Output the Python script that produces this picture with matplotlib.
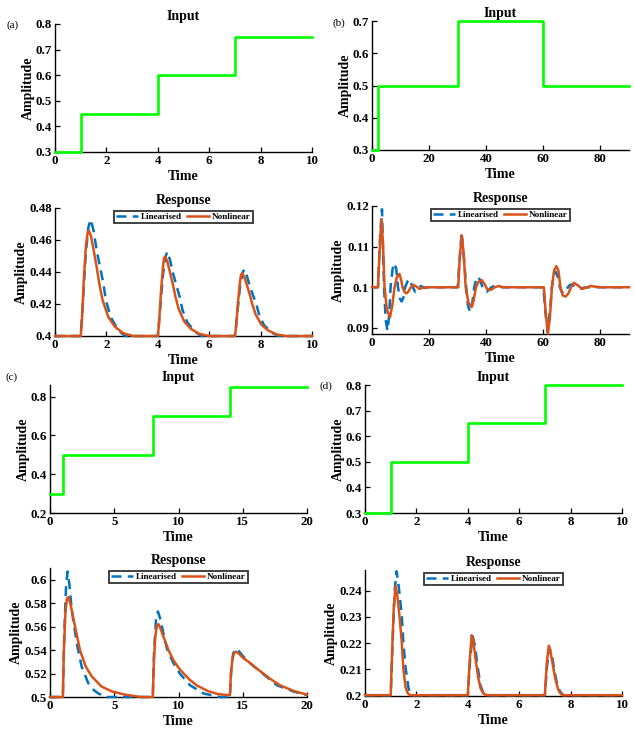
import numpy as np
import matplotlib
matplotlib.use("Agg")
import matplotlib.pyplot as plt
from matplotlib.ticker import FuncFormatter

plt.rcParams["font.family"] = ["Liberation Serif", "DejaVu Serif"]
plt.rcParams["font.weight"] = "bold"

GREEN = "#00ff00"
BLUE = "#0072bd"
ORANGE = "#d95319"

# ---- step inputs: switching times and held levels ----
a_in_t = [0, 1, 4, 7, 10]
a_in_y = [0.3, 0.45, 0.6, 0.75]
b_in_t = [0, 2, 30, 60, 90]
b_in_y = [0.3, 0.5, 0.7, 0.5]
c_in_t = [0, 1, 8, 14, 20]
c_in_y = [0.3, 0.5, 0.7, 0.85]
d_in_t = [0, 1, 4, 7, 10]
d_in_y = [0.3, 0.5, 0.65, 0.8]

# ---- (a) responses ----
a_lin_t = [0, 1.0, 1.08, 1.2, 1.3, 1.39, 1.5, 1.62, 1.75, 1.88, 1.98, 2.16, 2.46, 2.72,
           4.0, 4.08, 4.2, 4.3, 4.37, 4.47, 4.6, 4.73, 4.86, 4.96, 5.14, 5.44, 5.7,
           7.0, 7.08, 7.2, 7.3, 7.36, 7.46, 7.59, 7.72, 7.85, 7.95, 8.13, 8.43, 8.7, 10]
a_lin_y = [0.4, 0.4, 0.42, 0.452, 0.468, 0.4729, 0.466, 0.4537, 0.4433, 0.433, 0.4225, 0.412, 0.4037, 0.4,
           0.4, 0.415, 0.438, 0.4495, 0.4527, 0.4478, 0.4388, 0.4313, 0.4239, 0.4163, 0.4087, 0.4027, 0.4,
           0.4, 0.412, 0.431, 0.4395, 0.4417, 0.4378, 0.4307, 0.4248, 0.4189, 0.4129, 0.4069, 0.4021, 0.4, 0.4]
a_nl_t = [0, 1.0, 1.05, 1.12, 1.2, 1.27, 1.32, 1.4, 1.5, 1.62, 1.72, 1.85, 2.07, 2.33, 2.66, 3.05,
          4.0, 4.05, 4.12, 4.2, 4.24, 4.28, 4.36, 4.46, 4.58, 4.68, 4.81, 5.03, 5.29, 5.62, 6.0,
          7.0, 7.05, 7.12, 7.2, 7.24, 7.28, 7.36, 7.46, 7.58, 7.68, 7.81, 8.03, 8.29, 8.62, 9.0, 10]
a_nl_y = [0.4, 0.4, 0.41, 0.435, 0.456, 0.4645, 0.4658, 0.4625, 0.454, 0.4433, 0.433, 0.4225, 0.412, 0.4058, 0.4017, 0.4,
          0.4, 0.408, 0.427, 0.443, 0.4485, 0.4496, 0.4471, 0.4408, 0.4327, 0.425, 0.417, 0.409, 0.4044, 0.4013, 0.4,
          0.4, 0.406, 0.421, 0.434, 0.4383, 0.4392, 0.4372, 0.4322, 0.4258, 0.4197, 0.4134, 0.4071, 0.4035, 0.401, 0.4, 0.4]

# ---- (b) responses ----
b_lin_t = [0, 2.1, 2.8, 3.5, 4.2, 4.8, 5.4, 6.0, 6.5, 7.2, 7.9, 8.5, 9.1, 9.8, 10.4, 11.0, 11.6,
           12.4, 13.1, 14.1, 15.1, 16.0, 17.0, 18.5, 20, 30.0, 30.6, 31.4, 32.2, 33.0, 33.6, 34.3,
           35.0, 35.8, 36.5, 37.2, 38.0, 38.7, 39.5, 40.2, 41.8, 43.5, 45.5, 60.0, 60.7, 61.5,
           62.3, 63.0, 63.6, 64.3, 65.1, 65.8, 66.5, 67.2, 68.0, 68.6, 69.3, 70.0, 71.5, 73.0,
           75.0, 90]
b_lin_y = [0.1, 0.1, 0.112, 0.1192, 0.1, 0.092, 0.0893, 0.093, 0.1, 0.1045, 0.1059, 0.1045, 0.1,
           0.0972, 0.0965, 0.0975, 0.1, 0.1014, 0.102, 0.1003, 0.0989, 0.0994, 0.1003, 0.0999, 0.1,
           0.1, 0.106, 0.1135, 0.107, 0.1, 0.0955, 0.094, 0.0955, 0.1, 0.102, 0.1026, 0.1015,
           0.1, 0.0991, 0.0989, 0.1, 0.1005, 0.1, 0.1, 0.094, 0.089, 0.094, 0.1, 0.1033, 0.1038,
           0.1025, 0.1, 0.0988, 0.0985, 0.0992, 0.1, 0.1006, 0.1007, 0.1, 0.0997, 0.1, 0.1]
b_nl_t = [0, 2.1, 2.6, 3.27, 3.8, 4.4, 5.2, 6.3, 7.1, 7.9, 8.7, 9.6, 10.2, 10.7, 11.4, 12.1, 12.8,
          13.6, 14.5, 15.5, 16.6, 18.0, 20, 30.0, 30.2, 30.7, 31.4, 32.1, 32.8, 33.8, 34.9, 35.6,
          36.4, 37.3, 38.4, 39.4, 40.3, 41.5, 43.0, 44.3, 46, 60.0, 60.2, 60.8, 61.6, 62.3, 63.0,
          63.8, 64.6, 65.3, 66.0, 66.8, 67.8, 68.8, 69.7, 70.7, 72.0, 73.6, 75.0, 76.5, 80, 90]
b_nl_y = [0.1, 0.1, 0.108, 0.1167, 0.1115, 0.1, 0.0945, 0.0926, 0.0955, 0.1, 0.1025, 0.1033, 0.1018,
          0.1, 0.0988, 0.0985, 0.099, 0.1, 0.1006, 0.1002, 0.0996, 0.0999, 0.1, 0.1, 0.1, 0.107,
          0.1128, 0.1085, 0.1, 0.0962, 0.0951, 0.0968, 0.1, 0.1013, 0.1018, 0.1008, 0.0996, 0.0993,
          0.1, 0.1003, 0.1, 0.1, 0.1, 0.094, 0.0886, 0.0925, 0.1, 0.1042, 0.1052, 0.104, 0.1,
          0.098, 0.0977, 0.0985, 0.1, 0.1011, 0.1005, 0.0996, 0.0999, 0.1003, 0.1, 0.1]

# ---- (c) responses ----
c_lin_t = [0, 1.0, 1.1, 1.25, 1.37, 1.5, 1.69, 2.08, 2.46, 2.98, 3.4, 3.76, 4.4,
           8.0, 8.1, 8.25, 8.4, 8.6, 8.85, 9.1, 9.6, 10.1, 10.9, 11.95, 13.2, 14.0,
           14.1, 14.25, 14.47, 14.7, 15.0, 15.45, 16.0, 16.6, 17.66, 19.0, 20]
c_lin_y = [0.5, 0.5, 0.55, 0.595, 0.607, 0.597, 0.5744, 0.546, 0.526, 0.5117, 0.506, 0.503, 0.5,
           0.5, 0.54, 0.566, 0.5729, 0.566, 0.553, 0.541, 0.529, 0.52, 0.51, 0.503, 0.5, 0.5,
           0.522, 0.537, 0.5414, 0.539, 0.535, 0.53, 0.525, 0.5195, 0.51, 0.5045, 0.5015]
c_nl_t = [0, 1.0, 1.08, 1.2, 1.32, 1.43, 1.6, 1.95, 2.33, 2.78, 3.24, 4.0, 4.8, 5.84, 7.1,
          8.0, 8.08, 8.2, 8.32, 8.44, 8.6, 8.8, 9.0, 9.22, 9.6, 10.0, 10.4, 10.9, 11.4, 12.3,
          13.0, 13.5, 14.0, 14.08, 14.2, 14.35, 14.47, 14.7, 15.0, 15.45, 16.0, 16.6, 17.2,
          17.9, 19.0, 20]
c_nl_y = [0.5, 0.5, 0.54, 0.572, 0.584, 0.5852, 0.579, 0.56, 0.54, 0.526, 0.5177, 0.509, 0.5048,
          0.502, 0.5, 0.5, 0.53, 0.552, 0.561, 0.5621, 0.5585, 0.552, 0.5465, 0.54, 0.5315, 0.525,
          0.52, 0.5145, 0.51, 0.505, 0.5027, 0.502, 0.5015, 0.52, 0.533, 0.538, 0.5386, 0.537,
          0.5335, 0.53, 0.525, 0.52, 0.515, 0.51, 0.505, 0.502]

# ---- (d) responses ----
d_lin_t = [0, 1.0, 1.08, 1.16, 1.23, 1.32, 1.43, 1.49, 1.58, 1.69, 1.76, 1.82,
           4.0, 4.1, 4.19, 4.28, 4.38, 4.5, 4.62, 4.72,
           7.0, 7.08, 7.18, 7.27, 7.35, 7.45, 7.58, 7.72, 10]
d_lin_y = [0.2, 0.2, 0.222, 0.241, 0.2475, 0.241, 0.2306, 0.2205, 0.2104, 0.2029, 0.2005, 0.2,
           0.2, 0.215, 0.2226, 0.219, 0.211, 0.2035, 0.2005, 0.2,
           0.2, 0.211, 0.2182, 0.2155, 0.2105, 0.2055, 0.2015, 0.2, 0.2]
d_nl_t = [0, 1.0, 1.05, 1.12, 1.19, 1.26, 1.34, 1.43, 1.49, 1.58, 1.66, 1.75,
          4.0, 4.08, 4.15, 4.22, 4.3, 4.4, 4.5, 4.62, 4.75,
          7.0, 7.07, 7.15, 7.22, 7.3, 7.4, 7.52, 7.62, 7.72, 10]
d_nl_y = [0.2, 0.2, 0.215, 0.234, 0.2419, 0.238, 0.2306, 0.2205, 0.2104, 0.2029, 0.2008, 0.2,
          0.2, 0.214, 0.223, 0.2205, 0.214, 0.207, 0.2025, 0.2005, 0.2,
          0.2, 0.212, 0.219, 0.2165, 0.212, 0.2065, 0.202, 0.2005, 0.2, 0.2]


def style_axes(ax, xlim, xticks, ylim, yticks, title):
    """MATLAB-like axes: left/bottom box, inward ticks, bold serif text."""
    ax.set_xlim(xlim)
    ax.set_ylim(ylim)
    ax.set_xticks(xticks)
    ax.set_yticks(yticks)
    ax.xaxis.set_major_formatter(FuncFormatter(lambda v, p: "%g" % round(v, 4)))
    ax.yaxis.set_major_formatter(FuncFormatter(lambda v, p: "%g" % round(v, 4)))
    for side in ("top", "right"):
        ax.spines[side].set_visible(False)
    for side in ("left", "bottom"):
        ax.spines[side].set_linewidth(1.0)
    ax.tick_params(direction="in", length=3.5, width=0.9, labelsize=9.3, pad=2)
    for lab in ax.get_xticklabels() + ax.get_yticklabels():
        lab.set_fontweight("bold")
    ax.set_title(title, fontsize=10, fontweight="bold", pad=3)
    ax.set_xlabel("Time", fontsize=10, fontweight="bold", labelpad=2.5)
    ax.set_ylabel("Amplitude", fontsize=10, fontweight="bold", labelpad=1)


def draw_input(ax, edges, levels, xlim, xticks, ylim, yticks):
    ax.step(edges, np.append(levels, levels[-1]), where="post",
            color=GREEN, lw=1.9, clip_on=False, zorder=3)
    style_axes(ax, xlim, xticks, ylim, yticks, "Input")


def draw_response(ax, lin_t, lin_y, nl_t, nl_y, xlim, xticks, ylim, yticks):
    ax.plot(lin_t, lin_y, color=BLUE, lw=1.8, ls=(0, (4, 2.5)),
            label="Linearised", clip_on=False, zorder=3)
    ax.plot(nl_t, nl_y, color=ORANGE, lw=1.8, label="Nonlinear",
            clip_on=False, zorder=3)
    style_axes(ax, xlim, xticks, ylim, yticks, "Response")
    leg = ax.legend(loc="upper center", bbox_to_anchor=(0.5, 1.0), ncol=2,
                    prop={"size": 6.6, "weight": "bold"}, frameon=True,
                    fancybox=False, borderpad=0.2, handlelength=2.4,
                    handletextpad=0.3, columnspacing=0.6, borderaxespad=0.35)
    leg.get_frame().set_edgecolor("black")
    leg.get_frame().set_linewidth(1.3)


W, H = 634, 734
fig = plt.figure(figsize=(W / 100, H / 100), dpi=100)


def add_axes(x0, x1, ytop, ybot):
    return fig.add_axes([x0 / W, 1 - ybot / H, (x1 - x0) / W, (ybot - ytop) / H])


# (a)
ax = add_axes(55, 312, 24, 152)
draw_input(ax, a_in_t, a_in_y, (0, 10), np.arange(0, 11, 2), (0.3, 0.8), np.arange(0.3, 0.81, 0.1))
ax = add_axes(55, 312, 208, 336)
draw_response(ax, a_lin_t, a_lin_y, a_nl_t, a_nl_y, (0, 10), np.arange(0, 11, 2),
              (0.4, 0.48), np.arange(0.4, 0.481, 0.02))

# (b)
ax = add_axes(372, 629, 21, 150)
draw_input(ax, b_in_t, b_in_y, (0, 90), np.arange(0, 81, 20), (0.3, 0.7), np.arange(0.3, 0.71, 0.1))
ax = add_axes(372, 629, 206, 334)
draw_response(ax, b_lin_t, b_lin_y, b_nl_t, b_nl_y, (0, 90), np.arange(0, 81, 20),
              (0.0885, 0.12), [0.09, 0.1, 0.11, 0.12])

# (c)
ax = add_axes(50, 307, 385, 513)
draw_input(ax, c_in_t, c_in_y, (0, 20), np.arange(0, 21, 5), (0.2, 0.86), [0.2, 0.4, 0.6, 0.8])
ax = add_axes(50, 307, 568, 697)
draw_response(ax, c_lin_t, c_lin_y, c_nl_t, c_nl_y, (0, 20), np.arange(0, 21, 5),
              (0.5, 0.61), np.arange(0.5, 0.601, 0.02))

# (d)
ax = add_axes(365, 622, 385, 513)
draw_input(ax, d_in_t, d_in_y, (0, 10), np.arange(0, 11, 2), (0.3, 0.8), np.arange(0.3, 0.81, 0.1))
ax = add_axes(365, 622, 570, 696)
draw_response(ax, d_lin_t, d_lin_y, d_nl_t, d_nl_y, (0, 10), np.arange(0, 11, 2),
              (0.1997, 0.248), np.arange(0.2, 0.241, 0.01))

# panel letters
for lab, x, y in [("(a)", 13, 25), ("(b)", 339, 23), ("(c)", 12, 377), ("(d)", 326, 386)]:
    fig.text(x / W, 1 - y / H, lab, fontsize=8, fontweight="normal",
             ha="center", va="center")

fig.savefig("out.png", dpi=100)
